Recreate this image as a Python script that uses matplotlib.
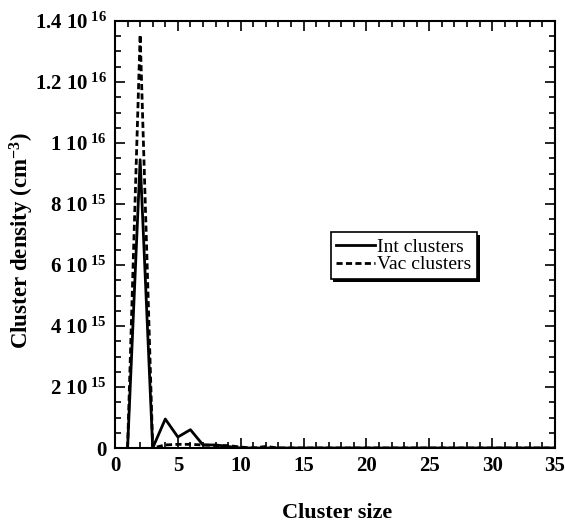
import numpy as np
import matplotlib.pyplot as plt
from matplotlib.ticker import FixedLocator, MultipleLocator
import matplotlib.patheffects as pe

plt.rcParams["font.family"] = ["Liberation Serif", "DejaVu Serif"]
plt.rcParams["mathtext.fontset"] = "custom"
plt.rcParams["mathtext.rm"] = "Liberation Serif:bold"
plt.rcParams["mathtext.bf"] = "Liberation Serif:bold"
plt.rcParams["mathtext.it"] = "Liberation Serif:bold"

# -----------------------------
# Data
# -----------------------------
cluster_size = np.arange(1, 36)
int_clusters = np.array([
    0.0, 9.45e15, 0.0, 0.95e15, 0.36e15, 0.60e15, 0.10e15, 0.10e15, 0.05e15, 0.0,
    0.0, 0.0, 0.0, 0.0, 0.0, 0.0, 0.0, 0.0, 0.0, 0.0,
    0.0, 0.0, 0.0, 0.0, 0.0, 0.0, 0.0, 0.0, 0.0, 0.0,
    0.0, 0.0, 0.0, 0.0, 0.0,
])
vac_clusters = np.array([
    0.0, 1.355e16, 0.0, 0.10e15, 0.12e15, 0.12e15, 0.10e15, 0.08e15, 0.08e15, 0.03e15,
    0.0, 0.05e15, 0.0, 0.0, 0.0, 0.0, 0.0, 0.0, 0.0, 0.0,
    0.0, 0.0, 0.0, 0.0, 0.0, 0.0, 0.0, 0.0, 0.0, 0.0,
    0.0, 0.0, 0.0, 0.0, 0.0,
])
y_ticks = [0, 2e15, 4e15, 6e15, 8e15, 1e16, 1.2e16, 1.4e16]
y_tick_labels = ["0", r"2 10$^{\;15}$", r"4 10$^{\;15}$", r"6 10$^{\;15}$", r"8 10$^{\;15}$",
                 r"1 10$^{\;16}$", r"1.2 10$^{\;16}$", r"1.4 10$^{\;16}$"]

# -----------------------------
# Figure
# -----------------------------
fig = plt.figure(figsize=(5.65, 5.24), dpi=100)
ax = fig.add_axes([115 / 565, 1 - 448 / 524, 440 / 565, 427 / 524])

ax.plot(cluster_size, int_clusters, color="black", lw=2.0, ls="-", label="Int clusters")
ax.plot(cluster_size, vac_clusters, color="black", lw=2.0, ls=(0, (2.2, 1.2)), label="Vac clusters")

ax.set_xlim(0, 35)
ax.set_ylim(0, 1.4e16)
ax.xaxis.set_major_locator(MultipleLocator(5))
ax.xaxis.set_minor_locator(MultipleLocator(1))
ax.yaxis.set_major_locator(FixedLocator(y_ticks))
ax.yaxis.set_minor_locator(MultipleLocator(5e14))
ax.set_yticklabels(y_tick_labels)

ax.tick_params(which="both", direction="in", top=True, right=True, width=1.2)
ax.tick_params(which="major", length=7, labelsize=15, pad=6)
ax.tick_params(which="minor", length=4)
for lab in ax.get_xticklabels() + ax.get_yticklabels():
    lab.set_fontweight("bold")
for sp in ax.spines.values():
    sp.set_linewidth(1.5)

ax.set_xlabel("Cluster size", fontsize=16, fontweight="bold")
ax.set_ylabel("Cluster density (cm$^{-3}$)", fontsize=16.5, fontweight="bold")
ax.xaxis.set_label_coords(0.505, -0.128)
ax.yaxis.set_label_coords(-0.18, 0.485)

leg = ax.legend(loc="upper left", bbox_to_anchor=(0.49, 0.505), frameon=True, fancybox=False,
                framealpha=1.0, fontsize=14, handlelength=2.0, handletextpad=0.1,
                borderpad=0.3, labelspacing=0.0, borderaxespad=0)
frame = leg.get_frame()
frame.set_facecolor("white")
frame.set_edgecolor("black")
frame.set_linewidth(1.2)
frame.set_path_effects([pe.SimplePatchShadow(offset=(2, -2), shadow_rgbFace="black", alpha=1.0), pe.Normal()])

fig.savefig("out.png", dpi=100)
